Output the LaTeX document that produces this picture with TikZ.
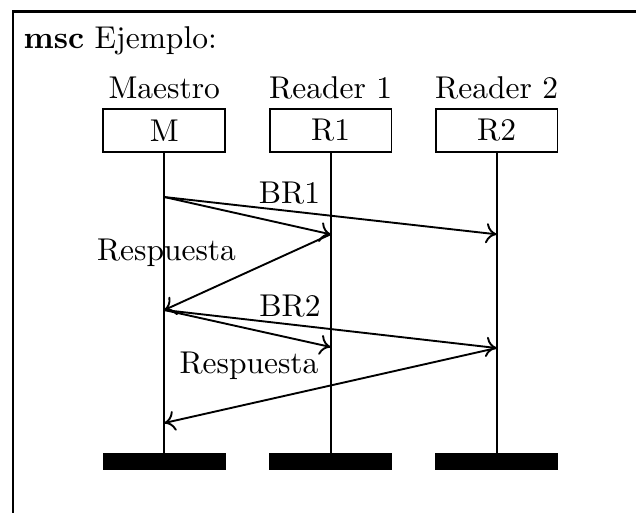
\documentclass[tikz,border=0pt]{standalone}
\usetikzlibrary{arrows.meta}
\begin{document}
\begin{tikzpicture}[x=0.3175pt,y=-0.3175pt,
  inst/.style={draw,line width=0.6pt,minimum width=38.7pt,minimum height=13.6pt,inner sep=0pt},
  bar/.style={fill=black,minimum width=38.9pt,minimum height=5.4pt,inner sep=0pt},
  life/.style={line width=0.6pt},
  msg/.style={line width=0.6pt,-{To[length=3.4pt,width=6.4pt]}},
  lbl/.style={anchor=base,inner sep=0pt}]
\useasboundingbox (0,0) rectangle (636,512);
\draw[line width=0.8pt] (13,520) -- (13,11.5) -- (645,11.5);
\node[anchor=base west,inner sep=0pt] (title) at (23,48) {\textbf{msc} Ejemplo:};
% instances
\node[lbl] (lm) at (164.3,98) {Maestro};
\node[lbl] (l1) at (330.6,98) {Reader 1};
\node[lbl] (l2) at (496.6,98) {Reader 2};
\node[inst] (M) at (164.3,130.5) {M};
\node[inst] (R1) at (330.6,130.5) {R1};
\node[inst] (R2) at (496.6,130.5) {R2};
\node[bar] (eM) at (164.3,461.7) {};
\node[bar] (e1) at (330.6,461.7) {};
\node[bar] (e2) at (496.6,461.7) {};
\draw[life] (M.south) -- (eM.north);
\draw[life] (R1.south) -- (e1.north);
\draw[life] (R2.south) -- (e2.north);
% event points
\coordinate (m1) at (164.3,197);
\coordinate (a1) at (330.6,234.3);
\coordinate (b1) at (496.6,234.3);
\coordinate (m2) at (164.3,310);
\coordinate (a2) at (330.6,347);
\coordinate (b2) at (496.6,348);
\coordinate (m3) at (164.3,423);
% messages
\draw[msg] (m1) -- (a1);
\draw[msg] (m1) -- (b1);
\draw[msg] (a1) -- (m2);
\draw[msg] (m2) -- (a2);
\draw[msg] (m2) -- (b2);
\draw[msg] (b2) -- (m3);
% labels
\node[lbl] (t1) at (289.5,203.3) {BR1};
\node[lbl] (t2) at (166.5,260) {Respuesta};
\node[lbl] (t3) at (290,316.7) {BR2};
\node[lbl] (t4) at (249,373.3) {Respuesta};
\end{tikzpicture}
\end{document}
